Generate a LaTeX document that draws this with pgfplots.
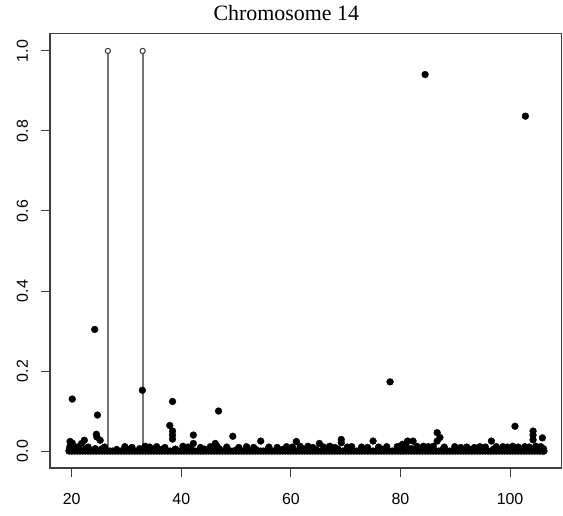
\documentclass[border=0pt]{standalone}
\usepackage{fontspec}
\setmainfont{Liberation Serif}
\newfontfamily\arialfont{Liberation Sans}
\usepackage{pgfplots}
\pgfplotsset{compat=1.18}
\begin{document}
\begin{tikzpicture}
\useasboundingbox (0bp,0bp) rectangle (563bp,516bp);
\begin{axis}[
  at={(50bp,48bp)}, anchor=south west,
  scale only axis, width=511.5bp, height=434.5bp,
  xmin=16.04, xmax=109.39, ymin=-0.0423, ymax=1.0436,
  axis line style={black!75, line width=1.1bp},
  xtick={20,40,60,80,100}, ytick={0,0.2,0.4,0.6,0.8,1.0},
  yticklabels={0.0,0.2,0.4,0.6,0.8,1.0},
  xtick pos=left, ytick pos=left,
  tick align=outside, major tick length=9bp,
  tick style={black!75, line width=1bp},
  /pgf/number format/assume math mode=true,
  tick label style={font=\arialfont\fontsize{16}{16}\selectfont, inner sep=0pt},
  xticklabel style={anchor=north, yshift=-16bp},
  yticklabel style={xshift=-13bp, rotate=90, anchor=base},
  title={Chromosome 14},
  title style={at={(0.462,1)}, anchor=base, yshift=7.5bp, inner sep=0pt, font=\fontsize{22}{22}\selectfont},
]
% base band y=0
\addplot[only marks, mark=*, mark size=3.4bp, black] coordinates {
(19.5,0) (20,0) (20.5,0) (21,0) (21.5,0) (22,0) (22.5,0) (23,0) (23.5,0) (24,0) (24.5,0) (25,0) (25.5,0) (26,0) (26.5,0) (27,0) (27.5,0) (28,0) (28.5,0) (29,0)
(29.5,0) (30,0) (30.5,0) (31,0) (31.5,0) (32,0) (32.5,0) (33,0) (33.5,0) (34,0) (34.5,0) (35,0) (35.5,0) (36,0) (36.5,0) (37,0) (37.5,0) (38,0) (38.5,0) (39,0)
(39.5,0) (40,0) (40.5,0) (41,0) (41.5,0) (42,0) (42.5,0) (43,0) (43.5,0) (44,0) (44.5,0) (45,0) (45.5,0) (46,0) (46.5,0) (47,0) (47.5,0) (48,0) (48.5,0) (49,0)
(49.5,0) (50,0) (50.5,0) (51,0) (51.5,0) (52,0) (52.5,0) (53,0) (53.5,0) (54,0) (54.5,0) (55,0) (55.5,0) (56,0) (56.5,0) (57,0) (57.5,0) (58,0) (58.5,0) (59,0)
(59.5,0) (60,0) (60.5,0) (61,0) (61.5,0) (62,0) (62.5,0) (63,0) (63.5,0) (64,0) (64.5,0) (65,0) (65.5,0) (66,0) (66.5,0) (67,0) (67.5,0) (68,0) (68.5,0) (69,0)
(69.5,0) (70,0) (70.5,0) (71,0) (71.5,0) (72,0) (72.5,0) (73,0) (73.5,0) (74,0) (74.5,0) (75,0) (75.5,0) (76,0) (76.5,0) (77,0) (77.5,0) (78,0) (78.5,0) (79,0)
(79.5,0) (80,0) (80.5,0) (81,0) (81.5,0) (82,0) (82.5,0) (83,0) (83.5,0) (84,0) (84.5,0) (85,0) (85.5,0) (86,0) (86.5,0) (87,0) (87.5,0) (88,0) (88.5,0) (89,0)
(89.5,0) (90,0) (90.5,0) (91,0) (91.5,0) (92,0) (92.5,0) (93,0) (93.5,0) (94,0) (94.5,0) (95,0) (95.5,0) (96,0) (96.5,0) (97,0) (97.5,0) (98,0) (98.5,0) (99,0)
(99.5,0) (100,0) (100.5,0) (101,0) (101.5,0) (102,0) (102.5,0) (103,0) (103.5,0) (104,0) (104.5,0) (105,0) (105.5,0) (106,0) (106.2,0)
};
% second layer
\addplot[only marks, mark=*, mark size=3.4bp, black] coordinates {
(19.6,0.006) (20.3,0.005) (21.4,0.005) (22.6,0.006) (24.3,0.006) (25.4,0.005) (28.2,0.004) (30.6,0.005) (32.4,0.006) (34.8,0.005) (36.4,0.004)
(38.9,0.005) (41.8,0.004) (44.2,0.005) (46.9,0.006) (50.2,0.004) (53.6,0.004) (55.8,0.005) (58.4,0.004) (62.2,0.005) (64.6,0.004) (68.6,0.005)
(70.8,0.004) (73.6,0.004) (76.6,0.005) (79.8,0.005) (82.0,0.006) (83.6,0.005) (85.6,0.005) (87.8,0.005) (90.6,0.004) (92.8,0.004) (95.2,0.005)
(97.0,0.005) (99.2,0.005) (101.0,0.006) (102.2,0.005) (103.8,0.006) (105.2,0.005) (106.1,0.006)
};
% bumps
\addplot[only marks, mark=*, mark size=3.4bp, black] coordinates {
(19.7,0.012) (20.3,0.011) (21.0,0.010) (23.0,0.010) (26.0,0.010) (29.7,0.011) (31.0,0.009) (33.4,0.012) (34.2,0.010) (35.5,0.011) (37.0,0.009)
(40.3,0.012) (41.2,0.010) (43.5,0.009) (45.3,0.011) (46.5,0.012) (48.3,0.010) (50.5,0.009) (51.9,0.011) (53.2,0.009) (56.0,0.010) (57.5,0.009)
(59.2,0.011) (60.3,0.010) (61.7,0.012) (63.1,0.012) (64.0,0.009) (66.0,0.010) (67.1,0.012) (68.0,0.009) (70.3,0.010) (71.1,0.011) (72.9,0.010)
(74.0,0.009) (76.0,0.010) (77.5,0.011) (79.4,0.011) (80.0,0.013) (81.0,0.014) (83.0,0.012) (84.2,0.012) (85.1,0.011) (86.0,0.012) (88.0,0.010)
(89.9,0.011) (91.0,0.009) (92.1,0.010) (93.5,0.009) (94.5,0.011) (95.5,0.010) (97.5,0.011) (98.7,0.011) (99.5,0.010) (100.5,0.012) (101.5,0.010)
(102.7,0.011) (103.5,0.010) (104.7,0.012) (105.6,0.011)
};
% outliers
\addplot[only marks, mark=*, mark size=3.4bp, black] coordinates {
(19.7,0.024) (19.8,0.016) (20.1,0.020) (20.1,0.130) (21.8,0.019) (22.3,0.027) (24.2,0.304) (24.7,0.090) (24.5,0.042) (24.6,0.035) (25.2,0.027)
(32.9,0.152) (38.4,0.124) (37.9,0.064) (38.4,0.050) (38.4,0.040) (38.4,0.030) (42.2,0.040) (42.2,0.019) (46.8,0.100) (49.4,0.037) (46.2,0.019)
(54.5,0.025) (61.0,0.024) (65.2,0.019) (69.2,0.029) (69.2,0.021) (75.0,0.025) (78.1,0.173) (84.5,0.941) (80.4,0.017) (81.3,0.025) (82.3,0.025)
(86.7,0.046) (87.2,0.034) (86.7,0.025) (96.6,0.025) (100.9,0.062) (102.8,0.837) (104.2,0.050) (104.2,0.040) (104.2,0.028) (105.9,0.033)
};
% vertical lines with open circles
\addplot[ycomb, draw=black!55, line width=1.8bp, mark=*, mark size=2.6bp, mark options={fill=white, draw=black!80, line width=1bp}] coordinates {
(26.6,1.0) (32.95,1.0)
};
\end{axis}
\end{tikzpicture}
\end{document}
